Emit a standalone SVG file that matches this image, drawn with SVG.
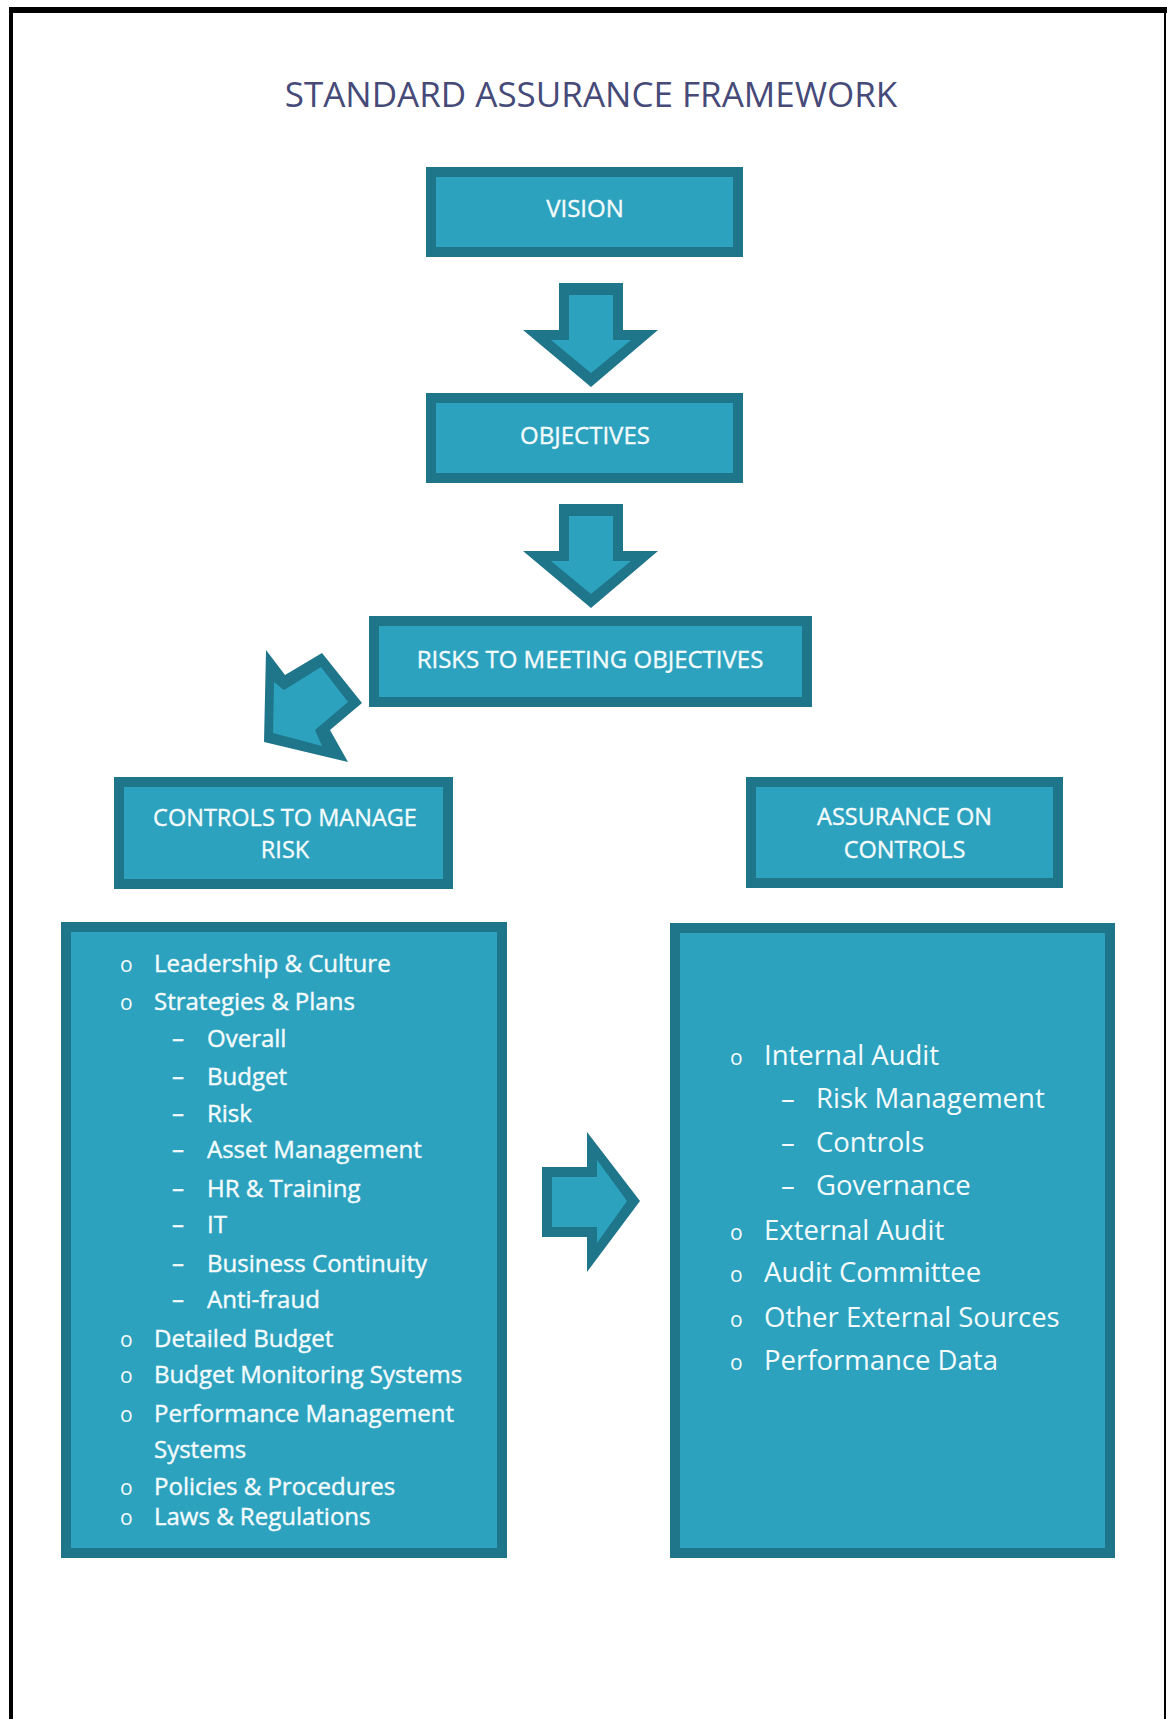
<svg xmlns="http://www.w3.org/2000/svg" width="1167" height="1719" viewBox="0 0 1167 1719">
<style>
.frame{fill:#000}
.box{fill:#2ca2bf;stroke:#1f7589;stroke-width:10}
.ao{fill:#1f7589}
.ai{fill:#2ca2bf}
.title{font-family:"Open Sans","DejaVu Sans",sans-serif;font-size:35px;fill:#464a78;text-anchor:middle}
.lbl{font-family:"Open Sans","DejaVu Sans",sans-serif;font-size:24px;fill:#f4fbfd;stroke:#f4fbfd;stroke-width:0.35;text-anchor:middle}
.lbl2{font-size:23.5px}
.li{font-family:"Open Sans","DejaVu Sans",sans-serif;font-size:24px;fill:#f4fbfd;stroke:#f4fbfd;stroke-width:0.4}
.ri{font-family:"Open Sans","DejaVu Sans",sans-serif;font-size:27.5px;fill:#f4fbfd}
.bul{font-family:"Open Sans","DejaVu Sans",sans-serif;font-size:21px;fill:#f4fbfd}
</style>
<rect width="1167" height="1719" fill="#fff"/>
<g id="frame">
<rect class="frame" x="9" y="7" width="1158" height="6"/>
<rect class="frame" x="9" y="7" width="4" height="1712"/>
<rect class="frame" x="1164" y="7" width="2" height="1712"/>
</g>
<text class="title" x="591" y="107">STANDARD ASSURANCE FRAMEWORK</text>
<g id="vision">
<rect class="box" x="431" y="172" width="307" height="80"/>
<text class="lbl" x="585" y="217">VISION</text>
</g>
<g id="objectives">
<rect class="box" x="431" y="398" width="307" height="80"/>
<text class="lbl" x="585" y="444">OBJECTIVES</text>
</g>
<g id="risks">
<rect class="box" x="374" y="621" width="433" height="81"/>
<text class="lbl" x="590" y="668">RISKS TO MEETING OBJECTIVES</text>
</g>
<g id="controls">
<rect class="box" x="119" y="782" width="329" height="102"/>
<text class="lbl lbl2" x="285" y="825.5">CONTROLS TO MANAGE</text>
<text class="lbl lbl2" x="285" y="858">RISK</text>
</g>
<g id="assurance">
<rect class="box" x="751" y="782" width="307" height="101"/>
<text class="lbl lbl2" x="904.5" y="825">ASSURANCE ON</text>
<text class="lbl lbl2" x="904.5" y="857.5">CONTROLS</text>
</g>
<g id="controls-list">
<rect class="box" x="66" y="927" width="436" height="626"/>
<text class="bul" x="120" y="971.7">o</text><text class="li" x="154" y="971.7">Leadership &amp; Culture</text>
<text class="bul" x="120" y="1010">o</text><text class="li" x="154" y="1010">Strategies &amp; Plans</text>
<text class="li" x="172" y="1046.7">–</text><text class="li" x="207" y="1046.7">Overall</text>
<text class="li" x="172" y="1085">–</text><text class="li" x="207" y="1085">Budget</text>
<text class="li" x="172" y="1121.7">–</text><text class="li" x="207" y="1121.7">Risk</text>
<text class="li" x="172" y="1158.3">–</text><text class="li" x="207" y="1158.3">Asset Management</text>
<text class="li" x="172" y="1196.7">–</text><text class="li" x="207" y="1196.7">HR &amp; Training</text>
<text class="li" x="172" y="1233">–</text><text class="li" x="207" y="1233">IT</text>
<text class="li" x="172" y="1271.7">–</text><text class="li" x="207" y="1271.7">Business Continuity</text>
<text class="li" x="172" y="1308">–</text><text class="li" x="207" y="1308">Anti-fraud</text>
<text class="bul" x="120" y="1346.7">o</text><text class="li" x="154" y="1346.7">Detailed Budget</text>
<text class="bul" x="120" y="1383.3">o</text><text class="li" x="154" y="1383.3">Budget Monitoring Systems</text>
<text class="bul" x="120" y="1421.7">o</text><text class="li" x="154" y="1421.7">Performance Management</text>
<text class="li" x="154" y="1458.3">Systems</text>
<text class="bul" x="120" y="1495">o</text><text class="li" x="154" y="1495">Policies &amp; Procedures</text>
<text class="bul" x="120" y="1525">o</text><text class="li" x="154" y="1525">Laws &amp; Regulations</text>
</g>
<g id="assurance-list">
<rect class="box" x="675" y="928" width="435" height="625"/>
<text class="bul" x="730" y="1065">o</text><text class="ri" x="764" y="1065">Internal Audit</text>
<text class="ri" x="781" y="1108.3">–</text><text class="ri" x="816" y="1108.3">Risk Management</text>
<text class="ri" x="781" y="1152.3">–</text><text class="ri" x="816" y="1152.3">Controls</text>
<text class="ri" x="781" y="1195">–</text><text class="ri" x="816" y="1195">Governance</text>
<text class="bul" x="730" y="1240">o</text><text class="ri" x="764" y="1240">External Audit</text>
<text class="bul" x="730" y="1281.7">o</text><text class="ri" x="764" y="1281.7">Audit Committee</text>
<text class="bul" x="730" y="1326.7">o</text><text class="ri" x="764" y="1326.7">Other External Sources</text>
<text class="bul" x="730" y="1370">o</text><text class="ri" x="764" y="1370">Performance Data</text>
</g>
<g id="connectors">
<g id="arrow-vision-objectives">
<polygon class="ao" points="559,283 623,283 623,330 658,330 591,387 523,330 559,330"/>
<polygon class="ai" points="569,295 613,295 613,340 631,340 591,373 551,340 569,340"/>
</g>
<g id="arrow-objectives-risks">
<polygon class="ao" points="559,504 623,504 623,551 658,551 591,608 523,551 559,551"/>
<polygon class="ai" points="569,516 613,516 613,561 631,561 591,594 551,561 569,561"/>
</g>
<g id="arrow-risks-controls">
<polygon class="ao" points="266,650 285,675 322,653 362,703 330,730 348,762 264,742"/>
<polygon class="ai" points="274,682 284,690 321,667 348,702 315,730 322,746 273,733"/>
</g>
<g id="arrow-controls-assurance">
<polygon class="ao" points="542,1167 587,1167 587,1132 640,1201 587,1272 587,1237 542,1237"/>
<polygon class="ai" points="552,1177 597,1177 597,1160 627,1201 597,1243 597,1227 552,1227"/>
</g>
</g>
</svg>
